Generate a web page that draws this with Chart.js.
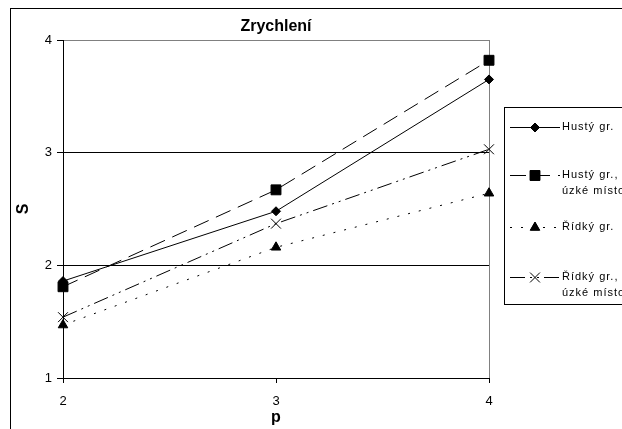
<!DOCTYPE html>
<html>
<head>
<meta charset="utf-8">
<script src="https://cdn.jsdelivr.net/npm/chart.js@4/dist/chart.umd.min.js"></script>
<style>
  html, body { margin: 0; padding: 0; background: #fff; }
  #wrap { width: 622px; height: 429px; }
</style>
</head>
<body>
<div id="wrap"><canvas id="chart" width="622" height="429"></canvas></div>
<script>
// values
const pValues = ['2', '3', '4'];
const hustySeries = [1.86, 2.48, 3.65];
const hustyUzkeSeries = [1.81, 2.67, 3.82];
const ridkySeries = [1.47, 2.16, 2.64];
const ridkyUzkeSeries = [1.54, 2.37, 3.03];
const seriesNames = ['Hustý gr.', ['Hustý gr.,', 'úzké místo'], 'Řídký gr.', ['Řídký gr.,', 'úzké místo']];
const chartTitle = 'Zrychlení';

const FONT = 'Arial, "Liberation Sans", sans-serif';

const series = (label, data, pointStyle, radius, dash) => ({
  label,
  data,
  borderColor: '#000',
  backgroundColor: '#000',
  borderWidth: 1,
  borderDash: dash,
  pointStyle,
  pointRadius: radius,
  pointBorderWidth: 1,
  pointBackgroundColor: '#000',
  pointBorderColor: '#000',
  tension: 0,
  fill: false
});

const datasets = [
  series(seriesNames[0], hustySeries, 'rectRot', 4.5, []),
  series(seriesNames[1], hustyUzkeSeries, 'rect', 7, [16, 8]),
  series(seriesNames[2], ridkySeries, 'triangle', 5.5, [2, 9]),
  series(seriesNames[3], ridkyUzkeSeries, 'crossRot', 7, [15, 5, 2, 5, 2, 5])
];

// frame, title and the two-line legend like the excel original
const decorations = {
  id: 'decorations',
  beforeDraw(chart) {
    const ctx = chart.ctx;
    ctx.save();
    ctx.fillStyle = '#fff';
    ctx.fillRect(0, 0, chart.width, chart.height);
    ctx.strokeStyle = '#000';
    ctx.lineWidth = 1;
    ctx.strokeRect(10.5, 8.5, 800, 600);
    ctx.restore();
  },
  afterDraw(chart) {
    const ctx = chart.ctx;
    const area = chart.chartArea;
    ctx.save();
    ctx.fillStyle = '#000';
    ctx.font = 'bold 16px ' + FONT;
    ctx.textAlign = 'center';
    ctx.textBaseline = 'alphabetic';
    ctx.fillText(chartTitle, (area.left + area.right) / 2, 31);

    // legend box
    ctx.strokeStyle = '#000';
    ctx.lineWidth = 1;
    ctx.strokeRect(504.5, 107.5, 300, 197);

    const rows = [127, 175, 227, 277];
    ctx.font = '11px ' + FONT;
    ctx.letterSpacing = '1px';
    ctx.textAlign = 'left';
    ctx.textBaseline = 'middle';
    chart.data.datasets.forEach((ds, i) => {
      const y = rows[i] + 0.5;
      ctx.beginPath();
      ctx.setLineDash(ds.borderDash);
      ctx.moveTo(510, y);
      ctx.lineTo(560, y);
      ctx.stroke();
      ctx.setLineDash([]);
      Chart.helpers.drawPoint(ctx, {
        pointStyle: ds.pointStyle,
        radius: ds.pointRadius,
        borderWidth: 1
      }, 535, y);
      ctx.fill();
      const lines = Array.isArray(ds.label) ? ds.label : [ds.label];
      lines.forEach((t, k) => ctx.fillText(t, 562, rows[i] + k * 16));
    });
    ctx.restore();
  }
};

new Chart(document.getElementById('chart'), {
  type: 'line',
  data: { labels: pValues, datasets },
  options: {
    responsive: false,
    animation: false,
    layout: { padding: { left: 0, top: 40, right: 133, bottom: 0 } },
    plugins: {
      legend: { display: false },
      title: { display: false },
      tooltip: { enabled: false }
    },
    scales: {
      x: {
        type: 'category',
        offset: false,
        afterFit(scale) { scale.height = 51; },
        grid: {
          color: (c) => c.index === 0 ? '#000' : (c.index === 2 ? '#808080' : 'rgba(0,0,0,0)'),
          tickColor: '#000',
          tickLength: 5,
          lineWidth: 1
        },
        border: { color: '#000', width: 1 },
        ticks: { color: '#000', font: { family: FONT, size: 13 }, padding: 11, maxRotation: 0 },
        title: {
          display: true,
          text: 'p',
          color: '#000',
          font: { family: FONT, size: 16, weight: 'bold' },
          padding: { top: 0, bottom: 2 }
        }
      },
      y: {
        min: 1,
        max: 4,
        afterFit(scale) { scale.width = 63; },
        ticks: { stepSize: 1, color: '#000', font: { family: FONT, size: 13 }, padding: 5 },
        grid: {
          color: (c) => c.tick && c.tick.value === 4 ? '#808080' : '#000',
          tickColor: '#000',
          tickLength: 6,
          lineWidth: 1
        },
        border: { color: '#000', width: 1 },
        title: {
          display: true,
          text: 'S',
          color: '#000',
          font: { family: FONT, size: 16, weight: 'bold' },
          padding: { top: 14, bottom: 0 }
        }
      }
    }
  },
  plugins: [decorations]
});
</script>
</body>
</html>
